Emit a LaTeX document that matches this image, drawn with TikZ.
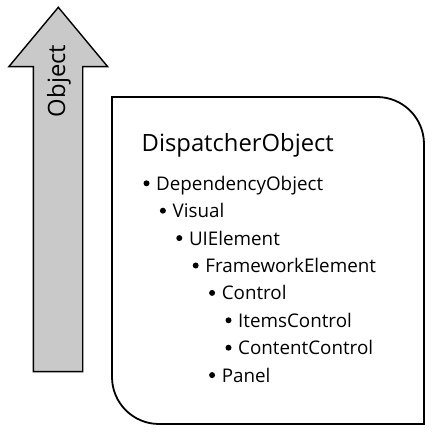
\documentclass[tikz,border=0pt]{standalone}
\usepackage{fontspec}
\setmainfont{Open Sans}
\begin{document}
\begin{tikzpicture}[x=1pt,y=1pt,
  bigtext/.style={inner sep=0pt, font=\fontsize{23.8}{28}\selectfont},
  item/.style={inner sep=0pt, anchor=base west, font=\fontsize{18.8}{22}\selectfont},
  bulletdot/.style={fill=black, draw=none},
  arrowshape/.style={draw=black, fill=black!21, line width=1.4pt, line join=miter},
  framebox/.style={draw=black, fill=white, line width=1.8pt}]
\useasboundingbox (0,0) rectangle (432,432);
% arrow
\draw[arrowshape] (58.3,424.7) -- (107.7,365.3) -- (82.7,365.3) -- (82.7,60.3)
  -- (33.3,60.3) -- (33.3,365.3) -- (8.8,365.3) -- cycle;
\node[bigtext, anchor=base, rotate=90] (obj) at (65,351) {Object};
% box
\draw[framebox] (112,335) -- (377,335) arc[start angle=90,end angle=0,radius=47]
  -- (424,8) -- (159,8) arc[start angle=270,end angle=180,radius=47] -- cycle;
\node[bigtext, anchor=base west] (title) at (141.5,280) {DispatcherObject};
% items
\foreach \name/\lvl/\row in {DependencyObject/0/0, Visual/1/1, UIElement/2/2,
  FrameworkElement/3/3, Control/4/4, ItemsControl/5/5, ContentControl/5/6, Panel/4/7}{
  \pgfmathsetmacro{\yy}{241.7-27.4*\row}
  \pgfmathsetmacro{\xb}{146.5+16.4*\lvl}
  \pgfmathsetmacro{\xt}{156+16.4*\lvl}
  \fill[bulletdot] (\xb,\yy+7) circle[radius=3];
  \node[item] (\name) at (\xt,\yy) {\name};
}
\end{tikzpicture}
\end{document}
